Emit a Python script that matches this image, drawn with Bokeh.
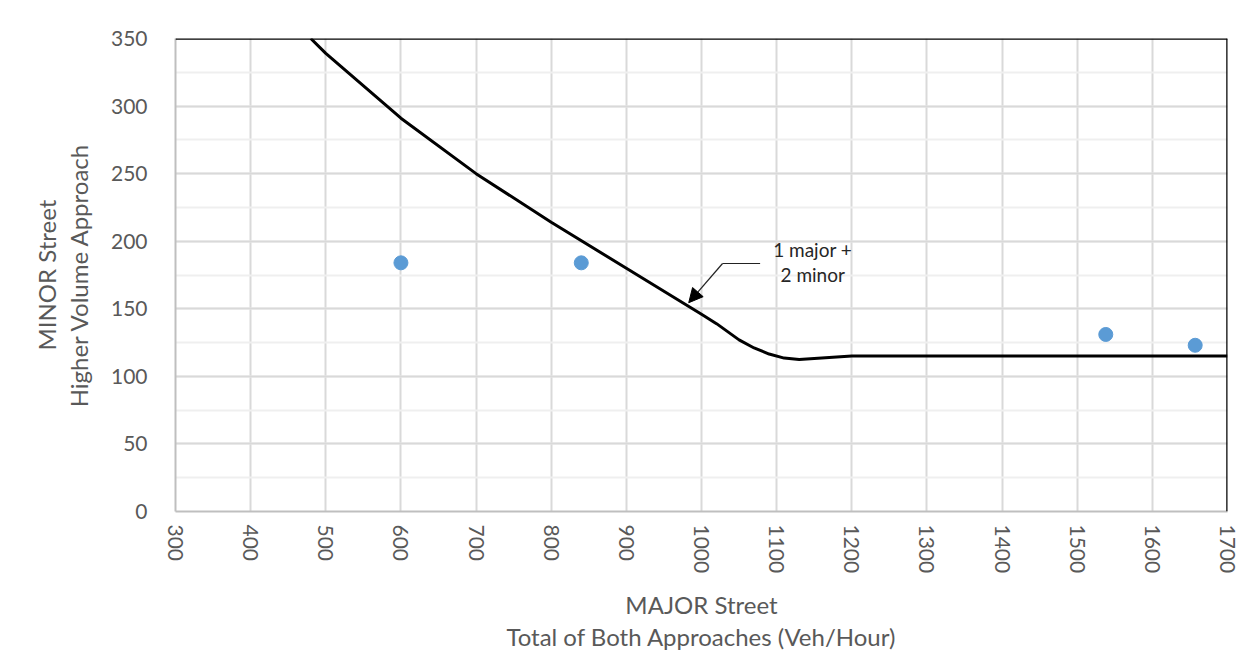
from bokeh.plotting import figure
from bokeh.models import Span, Label, Arrow, NormalHead, FixedTicker
from bokeh.embed import file_html
from bokeh.resources import INLINE

# Data
curve_x = [480, 500, 600, 700, 800, 900, 1000, 1020, 1050, 1070, 1090, 1110, 1130, 1160, 1200, 1700]
curve_y = [350, 339, 291, 250, 214, 180, 146, 139, 127, 121, 116.5, 113.5, 112.5, 113.5, 115, 115]
pts_x = [600, 840, 1538, 1657]
pts_y = [184, 184, 131, 123]
x_ticks = list(range(300, 1701, 100))
y_ticks = list(range(0, 351, 50))
x_label = "MAJOR Street\nTotal of Both Approaches (Veh/Hour)"
y_label = "MINOR Street\nHigher Volume Approach"
note_lines = ["1 major +", "2 minor"]

FONT = "Lato"
GRAY = "#595959"

p = figure(width=1245, height=655, output_backend="svg", toolbar_location=None,
           x_range=(300, 1700), y_range=(0, 350),
           min_border_left=175, min_border_right=18, min_border_top=38, min_border_bottom=144)
p.outline_line_color = None
p.background_fill_color = "white"
p.border_fill_color = "white"

# grid
p.xgrid.ticker = FixedTicker(ticks=x_ticks)
p.ygrid.ticker = FixedTicker(ticks=y_ticks, minor_ticks=list(range(0, 351, 25)))
p.xgrid.grid_line_color = "#d9d9d9"
p.ygrid.grid_line_color = "#d9d9d9"
p.xgrid.grid_line_width = 2
p.ygrid.grid_line_width = 2
p.ygrid.minor_grid_line_color = "#efefef"
p.ygrid.minor_grid_line_width = 2

for ax in (p.xaxis[0], p.yaxis[0]):
    ax.major_tick_line_color = None
    ax.minor_tick_line_color = None
    ax.axis_line_color = "#bfbfbf"
    ax.axis_line_width = 2
    ax.major_label_text_font = FONT
    ax.major_label_text_font_size = "21px"
    ax.major_label_text_color = GRAY
    ax.axis_label_text_font = FONT
    ax.axis_label_text_font_size = "24px"
    ax.axis_label_text_color = GRAY
    ax.axis_label_text_font_style = "normal"
    ax.axis_label_text_line_height = 1.1

p.xaxis[0].ticker = FixedTicker(ticks=x_ticks)
p.yaxis[0].ticker = FixedTicker(ticks=y_ticks)
p.xaxis[0].major_label_orientation = "vertical"
p.xaxis[0].major_label_standoff = 7
p.yaxis[0].major_label_standoff = 22
p.xaxis[0].axis_label = x_label
p.yaxis[0].axis_label = y_label
p.xaxis[0].axis_label_standoff = 14
p.yaxis[0].axis_label_standoff = 15

# black top/right frame
p.add_layout(Span(location=350, dimension="width", line_color="black", line_width=2.5))
p.add_layout(Span(location=1700, dimension="height", line_color="black", line_width=2.5))

# curve
p.line(curve_x, curve_y, line_color="black", line_width=3, line_join="round")

# points
p.scatter(pts_x, pts_y, size=14, fill_color="#5b9bd5", line_color="#5b9bd5")

# annotation
p.line([1078, 1028], [183.5, 183.5], line_color="#222222", line_width=1.2)
p.add_layout(Arrow(x_start=1028, y_start=183.5, x_end=983, y_end=154.5,
                   line_color="#222222", line_width=1.2,
                   end=NormalHead(size=14, fill_color="black", line_color="black")))
p.add_layout(Label(x=1148, y=194, text=note_lines[0], text_font=FONT, text_font_size="19px",
                   text_color="#262626", text_align="center", text_baseline="middle"))
p.add_layout(Label(x=1148, y=175.5, text=note_lines[1], text_font=FONT, text_font_size="19px",
                   text_color="#262626", text_align="center", text_baseline="middle"))

open("out.html", "w").write(file_html(p, INLINE))
